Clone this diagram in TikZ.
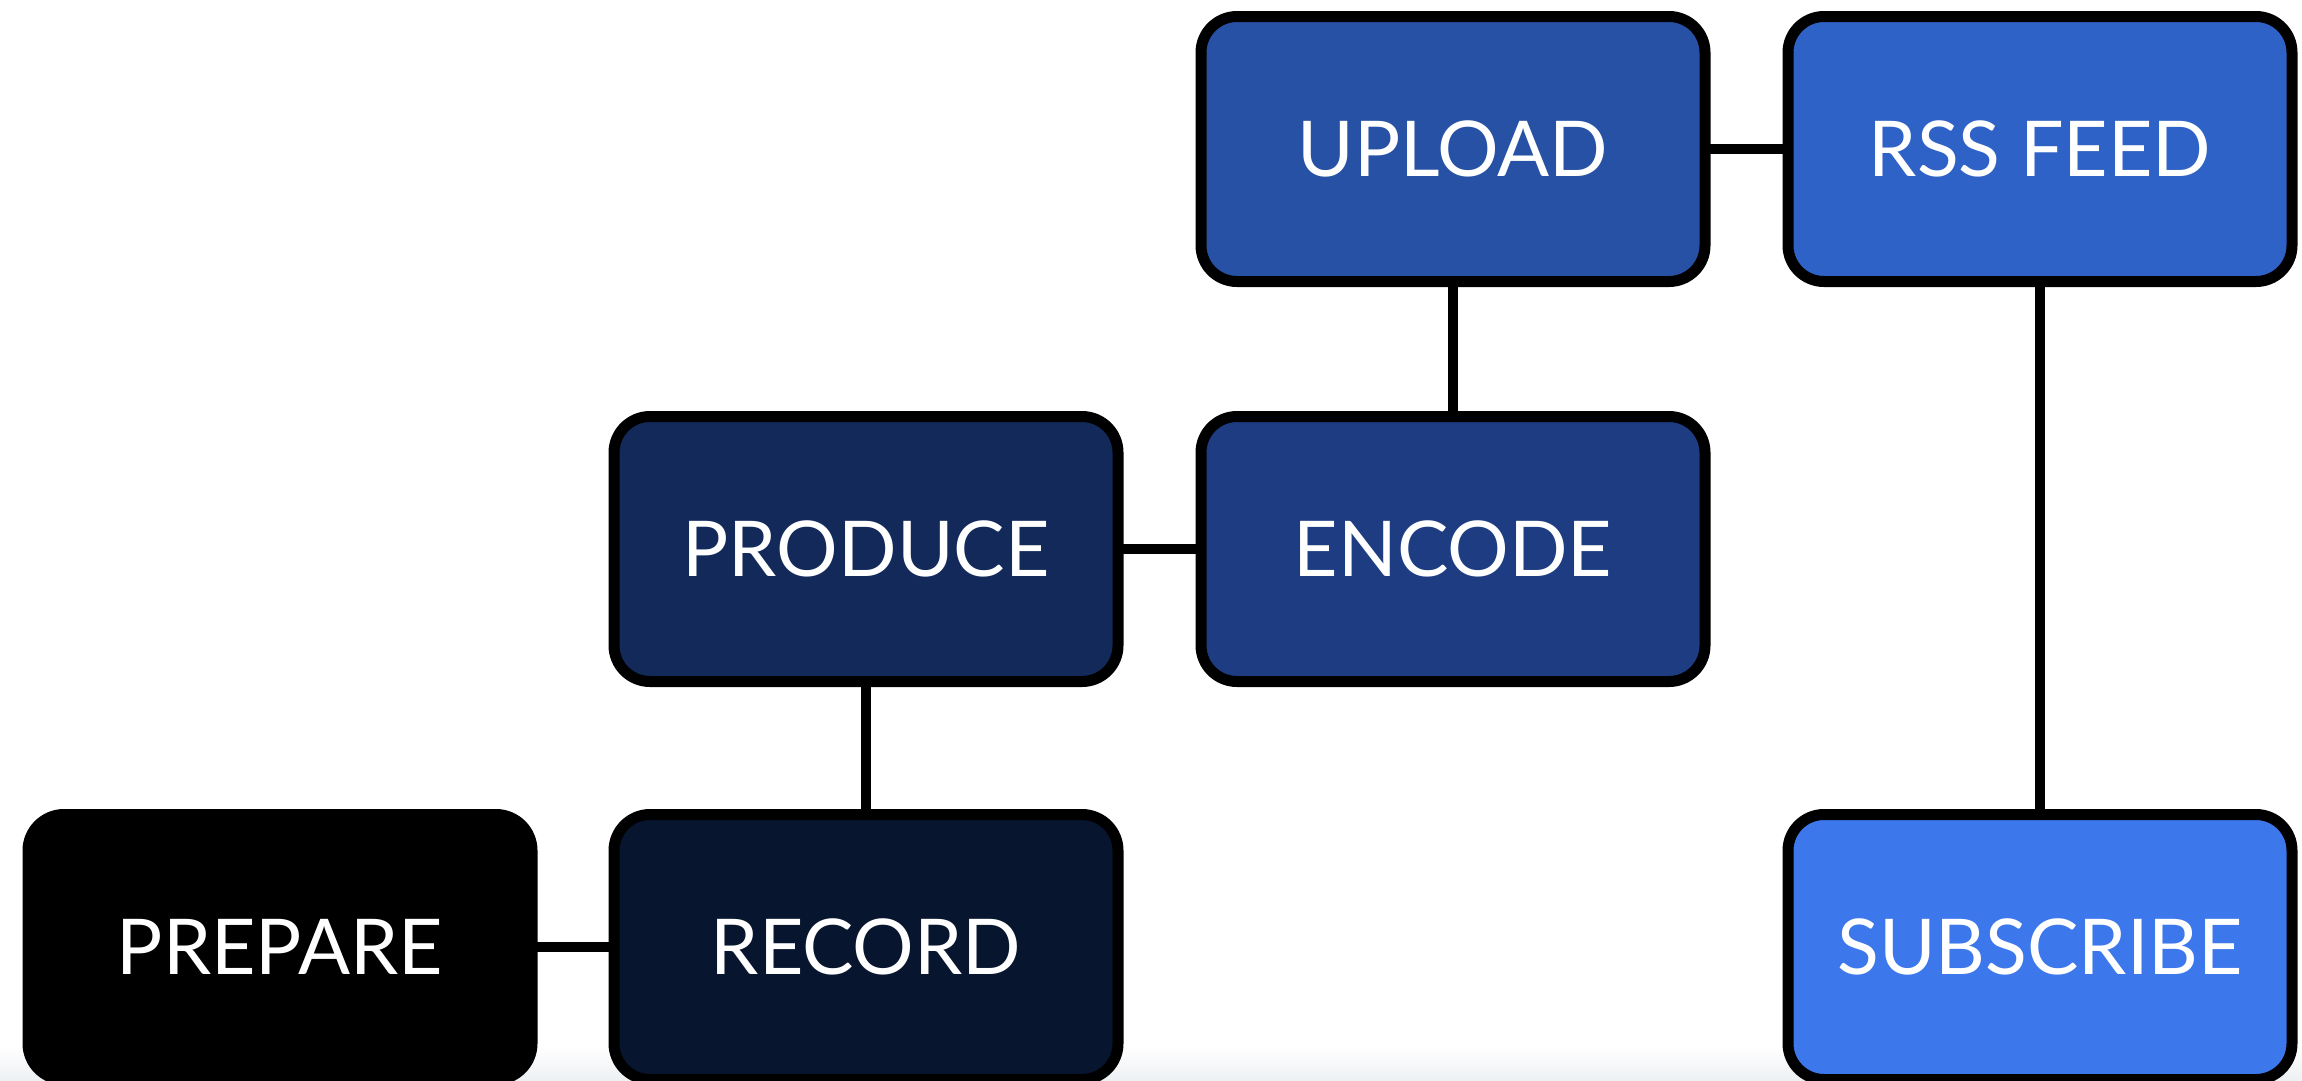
\documentclass[tikz,border=0pt]{standalone}
\usepackage{fontspec}
\setmainfont{Lato}
\definecolor{cPrepare}{HTML}{000000}
\definecolor{cRecord}{HTML}{07152F}
\definecolor{cProduce}{HTML}{12295A}
\definecolor{cEncode}{HTML}{1D3C82}
\definecolor{cUpload}{HTML}{2751A4}
\definecolor{cRss}{HTML}{2F62C6}
\definecolor{cSub}{HTML}{3C78EC}
\definecolor{cFade}{HTML}{EEF1F4}
\tikzset{
  stagebox/.style={draw=black, line width=11pt, rounded corners=36pt,
    minimum width=504pt, minimum height=265pt, inner sep=0pt,
    text=white, font=\fontsize{77}{80}\selectfont},
  link/.style={draw=black, line width=10pt}
}
\begin{document}
\begin{tikzpicture}[x=1pt,y=-1pt]
\useasboundingbox (0,0) rectangle (2302,1080);
\fill[white] (0,0) rectangle (2302,1080);
\shade[top color=white, bottom color=cFade] (0,1045) rectangle (2302,1080);
\begin{scope}
\clip (0,0) rectangle (2302,1080);
% connectors (behind boxes)
\coordinate (cUp) at (1453,149);
\coordinate (cRs) at (2040,149);
\coordinate (cPr) at (866,549);
\coordinate (cEn) at (1453,549);
\coordinate (cPp) at (280,947);
\coordinate (cRe) at (866,947);
\coordinate (cSu) at (2040,947);
\draw[link] (cUp) -- (cRs);
\draw[link] (cUp) -- (cEn);
\draw[link] (cPr) -- (cEn);
\draw[link] (cPr) -- (cRe);
\draw[link] (cPp) -- (cRe);
\draw[link] (cRs) -- (cSu);
% boxes
\node[stagebox, fill=cUpload] (upload) at (cUp) {UPLOAD};
\node[stagebox, fill=cRss] (rss) at (cRs) {RSS FEED};
\node[stagebox, fill=cProduce] (produce) at (cPr) {PRODUCE};
\node[stagebox, fill=cEncode] (encode) at (cEn) {ENCODE};
\node[stagebox, fill=cPrepare] (prepare) at (cPp) {PREPARE};
\node[stagebox, fill=cRecord] (record) at (cRe) {RECORD};
\node[stagebox, fill=cSub] (subscribe) at (cSu) {SUBSCRIBE};
\end{scope}
\end{tikzpicture}
\end{document}
